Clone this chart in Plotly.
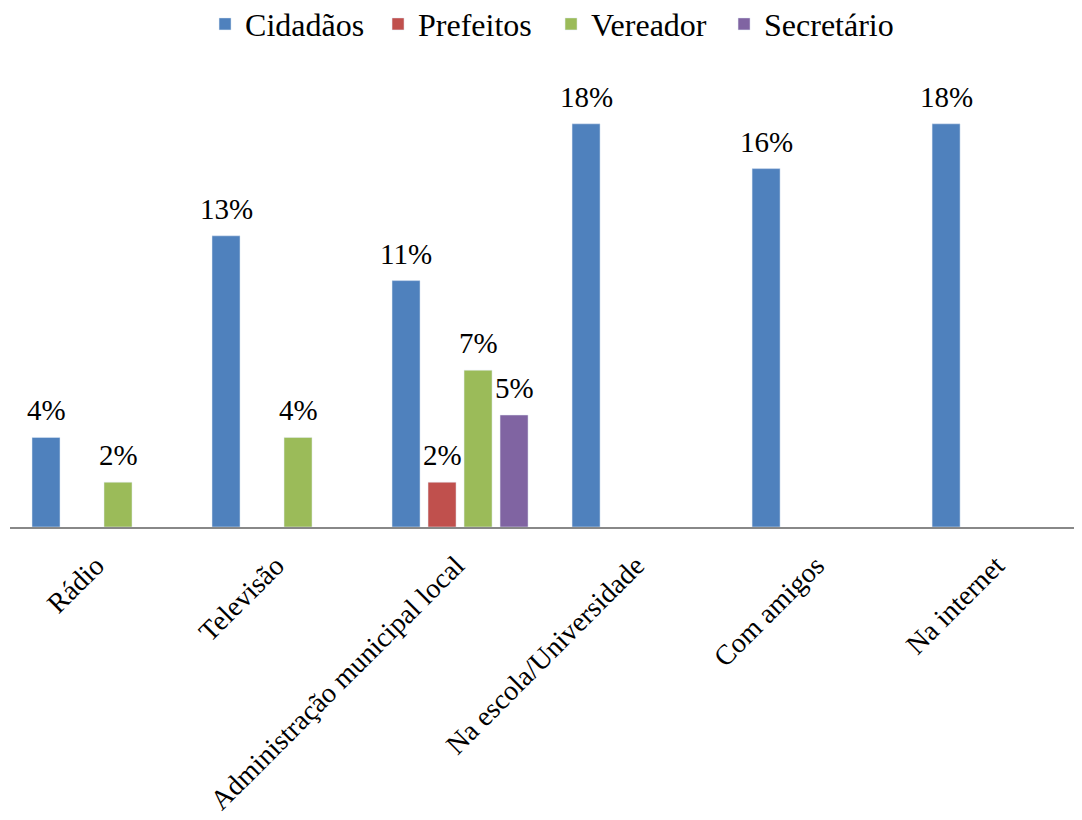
import plotly.graph_objects as go

categories = ["Rádio", "Televisão", "Administração municipal local",
              "Na escola/Universidade", "Com amigos", "Na internet"]
cidadaos = [4, 13, 11, 18, 16, 18]
prefeitos = [None, None, 2, None, None, None]
vereador = [2, 4, 7, None, None, None]
secretario = [None, None, 5, None, None, None]

series = [
    ("Cidadãos", cidadaos, "#4F81BD"),
    ("Prefeitos", prefeitos, "#C0504D"),
    ("Vereador", vereador, "#9BBB59"),
    ("Secretário", secretario, "#8064A2"),
]

FONT = "Liberation Serif"
GROUP = 0.8          # fraction of category used by the group
SLOT = GROUP / len(series)
BAR_W = SLOT * 0.778

fig = go.Figure()
annotations = []
for i, (name, vals, col) in enumerate(series):
    center = -GROUP / 2 + SLOT * (i + 0.5)
    fig.add_trace(go.Bar(
        name=name, x=categories, y=vals, marker_color=col,
        width=BAR_W, offset=center - BAR_W / 2,
    ))
    for j, v in enumerate(vals):
        if v is None:
            continue
        annotations.append(dict(
            x=j + center, y=v, xref="x", yref="y", text=f"{v}%",
            showarrow=False, yanchor="bottom", xanchor="center", yshift=9,
            font=dict(family=FONT, size=29, color="black"),
        ))

fig.update_layout(
    width=1074, height=812,
    barmode="overlay",
    plot_bgcolor="white", paper_bgcolor="white",
    margin=dict(l=2, r=0, t=71, b=293, autoexpand=False),
    font=dict(family=FONT, size=28, color="black"),
    legend=dict(orientation="h", x=0.5047, xanchor="center", y=1.1225, yanchor="middle",
                font=dict(size=32, family=FONT), itemwidth=30, tracegroupgap=0,
                entrywidth=128, entrywidthmode="pixels"),
    showlegend=True,
    annotations=annotations,
)
fig.update_xaxes(showline=True, linecolor="#888888", linewidth=2, tickangle=-45,
                 ticks="", automargin=False, range=[-0.5, 5.455],
                 ticklabelstandoff=9, ticklabelshift=-4,
                 tickfont=dict(size=28, family=FONT))
fig.update_yaxes(range=[0, 20], visible=False, showgrid=False, automargin=False)
fig.write_html("out.html")
